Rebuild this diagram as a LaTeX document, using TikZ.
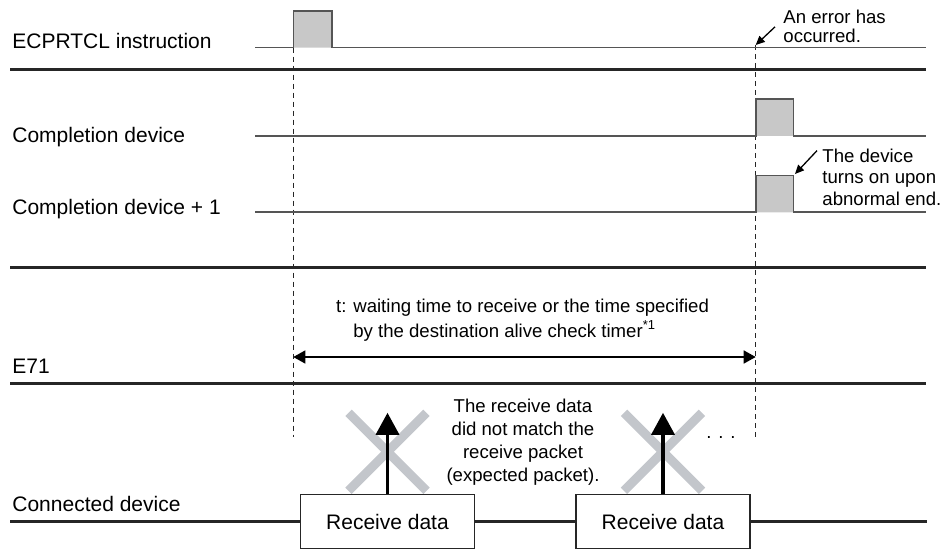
\documentclass[tikz,border=0pt]{standalone}
\usepackage{fontspec}
\setmainfont{Liberation Sans}
\usetikzlibrary{arrows.meta}
\definecolor{sigline}{HTML}{555555}
\definecolor{barline}{HTML}{262626}
\definecolor{pulsefill}{HTML}{C8C8C8}
\definecolor{crossgray}{HTML}{C3C6CB}

\begin{document}
\begin{tikzpicture}[x=0.5pt, y=-0.5pt,
  lbl/.style={anchor=base west, inner sep=0pt, font=\fontsize{10.5}{12.6}\selectfont},
  note/.style={inner sep=0pt, font=\fontsize{9.3}{11.5}\selectfont, align=center},
  sig/.style={draw=sigline, line width=0.8pt},
  pulse/.style={sig, fill=pulsefill},
  bar/.style={draw=barline, line width=1.5pt},
  guide/.style={draw=barline, line width=0.5pt, dash pattern=on 2.5pt off 2pt},
  rxbox/.style={draw=barline, fill=white, line width=0.7pt, minimum width=87pt,
                minimum height=27pt, inner sep=0pt, font=\fontsize{10.5}{12.6}\selectfont},
  uparrow/.style={-{Triangle[length=11pt, width=11.5pt]}, line width=1.75pt, black},
  dimarrow/.style={{Triangle[length=6pt, width=6.5pt]}-{Triangle[length=6pt, width=6.5pt]},
                   line width=0.75pt, black},
  callout/.style={-{Triangle[length=4.5pt, width=4pt]}, line width=0.65pt, black},
  cross/.style={draw=crossgray, line width=4.5pt}
]
  \useasboundingbox (0,0) rectangle (940,550);

  \coordinate (startTop) at (293.3,47.7);
  \coordinate (startBot) at (293.3,437);
  \coordinate (errPt)    at (755.7,45);
  \coordinate (errBot)   at (755.7,437);
  \coordinate (onPt)     at (795,174);
  \coordinate (connL)    at (10,521.5);
  \coordinate (connR)    at (927,521.5);

  \draw[guide] (startTop) -- (startBot);
  \draw[guide] (errPt) -- (errBot);

  \draw[bar] (10,69.5) -- (926,69.5);
  \draw[bar] (10,268) -- (926,268);
  \draw[bar] (10,383) -- (926,383);

  \draw[pulse] (255,47.7) -| (293.3,11) -| (332,47.7) -- (926,47.7);
  \draw[pulse] (255,136) -| (755.7,99) -| (793.3,136) -- (926,136);
  \draw[pulse] (255,212.3) -| (755.7,175.7) -| (793.3,212.3) -- (926,212.3);

  \node[lbl] (ecp)   at (12,49)  {ECPRTCL instruction};
  \node[lbl] (cdev)  at (12,143) {Completion device};
  \node[lbl] (cdev1) at (12,215) {Completion device + 1};
  \node[lbl] (e71)   at (12,373) {E71};
  \node[lbl] (conn)  at (12,511) {Connected device};

  \node[note, anchor=base west, align=left, font=\fontsize{9.3}{9.5}\selectfont]
       (errnote) at (783,43) {An error has\\occurred.};
  \draw[callout] ([shift={(-8,0)}]errnote.west) -- (errPt);

  \node[note, anchor=base west, align=left, font=\fontsize{9.3}{10.75}\selectfont]
       (onnote) at (822,205.5) {The device\\turns on upon\\abnormal end.};
  \draw[callout] ([shift={(-5,2)}]onnote.north west) -- (onPt);

  \node[note, anchor=base west, align=left, font=\fontsize{9.3}{12.3}\selectfont]
       (wait) at (335.7,337)
       {t: waiting time to receive or the time specified\\\hphantom{t: }by the destination alive check timer\textsuperscript{*1}};
  \draw[dimarrow] (startTop |- 0,357) -- (errPt |- 0,357);

  \node[rxbox] (rx1) at (387.5,521.5) {Receive data};
  \node[rxbox] (rx2) at (663,521.5)   {Receive data};
  \draw[bar] (connL) -- (rx1);
  \draw[bar] (rx1) -- (rx2);
  \draw[bar] (rx2) -- (connR);

  \draw[cross] ([shift={(-39,-81)}]rx1.north) -- ([shift={(39,-3)}]rx1.north);
  \draw[cross] ([shift={(39,-81)}]rx1.north) -- ([shift={(-39,-3)}]rx1.north);
  \draw[uparrow] (rx1.north) -- ++(0,-81);
  \draw[cross] ([shift={(-39,-81)}]rx2.north) -- ([shift={(39,-3)}]rx2.north);
  \draw[cross] ([shift={(39,-81)}]rx2.north) -- ([shift={(-39,-3)}]rx2.north);
  \draw[uparrow] (rx2.north) -- ++(0,-81);

  \node[note, anchor=base, font=\fontsize{9.3}{11.5}\selectfont] (mismatch) at (523,481)
       {The receive data\\did not match the\\receive packet\\(expected packet).};
  \node[note, anchor=base] (more) at (721,438) {. . .};
\end{tikzpicture}
\end{document}
